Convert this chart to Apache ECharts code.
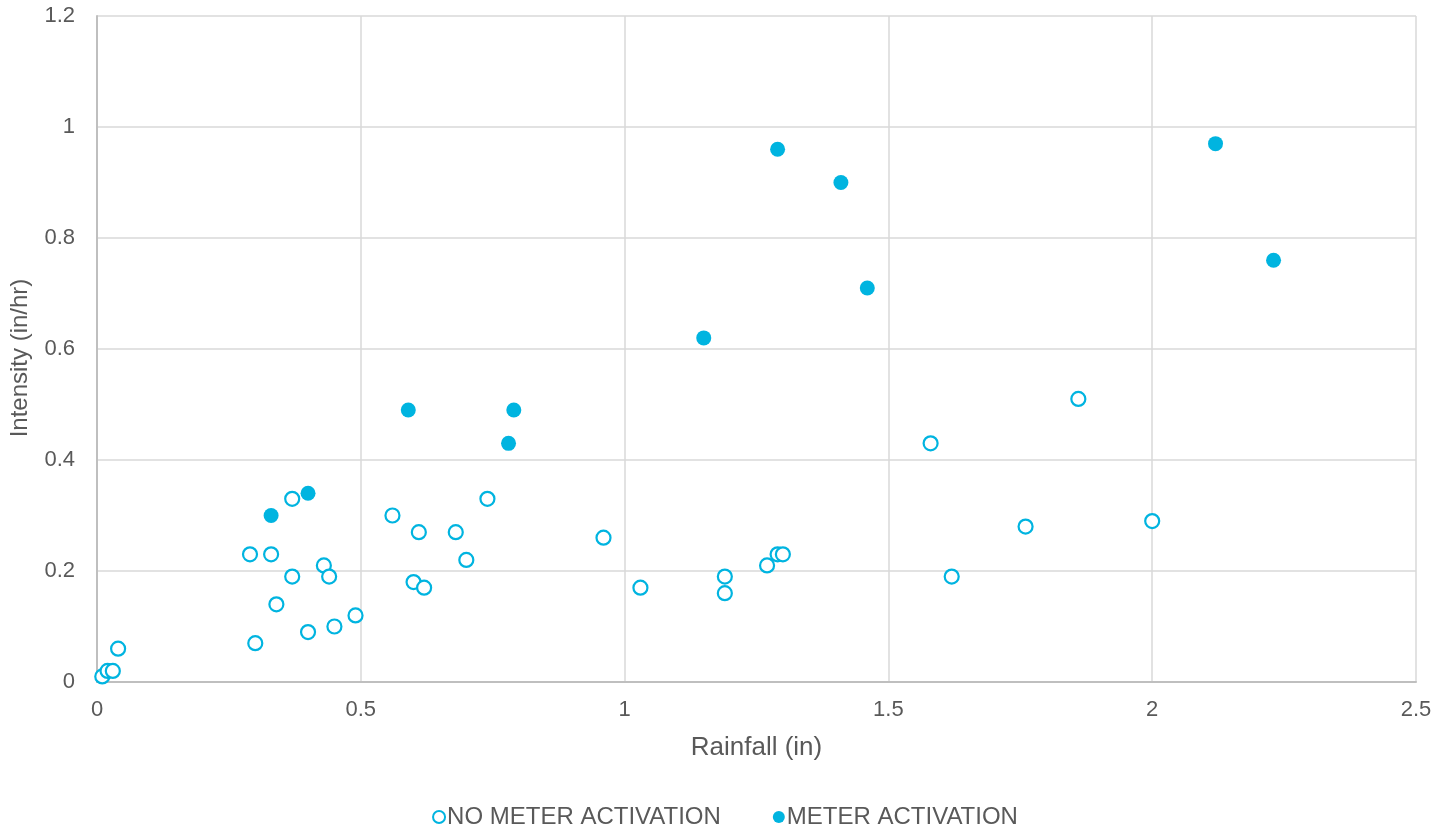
<!DOCTYPE html>
<html><head><meta charset="utf-8">
<script src="https://cdn.jsdelivr.net/npm/echarts@6/dist/echarts.min.js"></script>
<style>html,body{margin:0;padding:0;background:#fff}#c{width:1450px;height:831px}</style>
</head><body><div id="c"></div>
<script>
const noMeterX = [0.01,0.02,0.03,0.04,0.29,0.30,0.33,0.34,0.37,0.37,0.40,0.43,0.44,0.45,0.49,0.56,0.60,0.61,0.62,0.68,0.70,0.74,0.96,1.03,1.19,1.19,1.27,1.29,1.30,1.58,1.62,1.76,1.86,2.00];
const noMeterY = [0.01,0.02,0.02,0.06,0.23,0.07,0.23,0.14,0.33,0.19,0.09,0.21,0.19,0.10,0.12,0.30,0.18,0.27,0.17,0.27,0.22,0.33,0.26,0.17,0.19,0.16,0.21,0.23,0.23,0.43,0.19,0.28,0.51,0.29];
const meterX = [0.33,0.40,0.59,0.78,0.79,1.15,1.29,1.41,1.46,2.12,2.23];
const meterY = [0.30,0.34,0.49,0.43,0.49,0.62,0.96,0.90,0.71,0.97,0.76];
const seriesNames = ['NO METER ACTIVATION','METER ACTIVATION'];
const xTitle = 'Rainfall (in)';
const yTitle = 'Intensity (in/hr)';

const color = '#00B4E0';
const txt = '#595959';
const font = 'Liberation Sans, Arial, sans-serif';
const zip = (a,b) => a.map((v,i)=>[v,b[i]]);

const chart = echarts.init(document.getElementById('c'), null, {renderer:'canvas'});
chart.setOption({
  animation:false,
  grid:{left:97,right:34,top:16,bottom:149,containLabel:false},
  xAxis:{type:'value',min:0,max:2.5,interval:0.5,
    name:xTitle,nameLocation:'middle',nameGap:53,
    nameTextStyle:{color:txt,fontSize:26,fontFamily:font},
    axisLine:{show:true,onZero:false,lineStyle:{color:'#BFBFBF',width:2}},
    axisTick:{show:false},
    axisLabel:{color:txt,fontSize:22,fontFamily:font,margin:17},
    splitLine:{show:true,lineStyle:{color:'#D9D9D9',width:1.5}}},
  yAxis:{type:'value',min:0,max:1.2,interval:0.2,
    name:yTitle,nameLocation:'middle',nameGap:65,nameRotate:90,
    nameTextStyle:{color:txt,fontSize:24,fontFamily:font,padding:[0,18,0,0]},
    axisLine:{show:true,onZero:false,lineStyle:{color:'#BFBFBF',width:2}},
    axisTick:{show:false},
    axisLabel:{color:txt,fontSize:22,fontFamily:font,margin:22},
    splitLine:{show:true,lineStyle:{color:'#D9D9D9',width:1.5}}},
  legend:{top:800,left:'center',itemGap:52,itemWidth:12,itemHeight:13,
    textStyle:{color:txt,fontSize:24,fontFamily:font,padding:[0,0,0,-3]},
    data:[{name:seriesNames[0],icon:'circle',itemStyle:{color:'#fff',borderColor:color,borderWidth:2}},
          {name:seriesNames[1],icon:'circle',itemStyle:{color:color}}]},
  series:[
    {name:seriesNames[0],type:'scatter',symbol:'circle',symbolSize:14,
     itemStyle:{color:'#fff',borderColor:color,borderWidth:2.2,opacity:1},
     data:zip(noMeterX,noMeterY)},
    {name:seriesNames[1],type:'scatter',symbol:'circle',symbolSize:15,
     itemStyle:{color:color,opacity:1},
     data:zip(meterX,meterY)}
  ]
});
</script></body></html>
